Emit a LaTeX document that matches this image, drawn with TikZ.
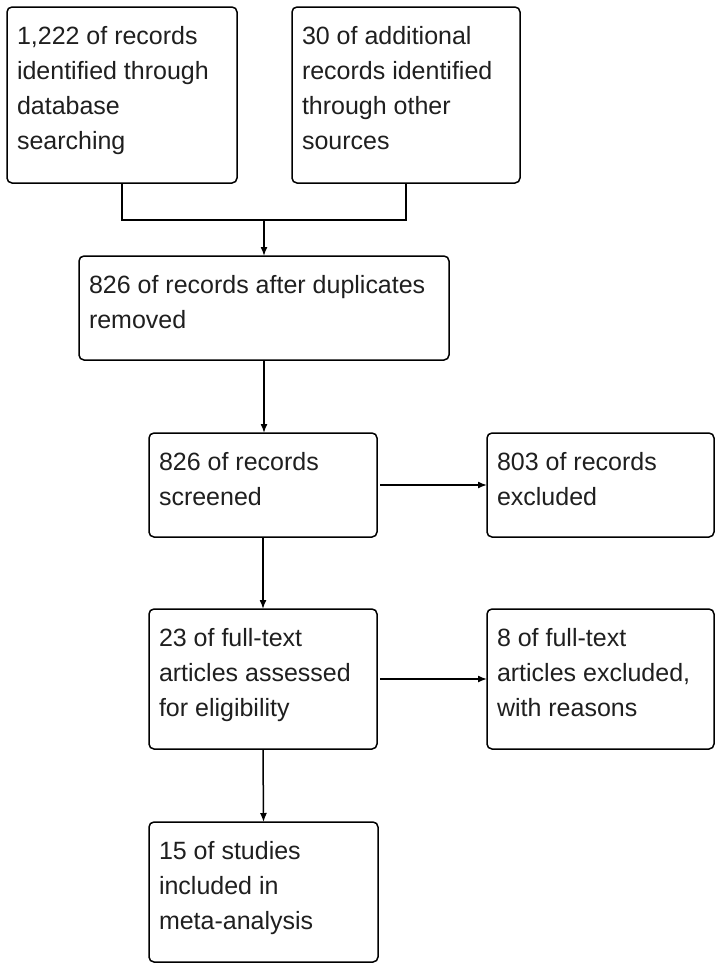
\documentclass[tikz,border=0pt]{standalone}
\usepackage{fontspec}
\setmainfont{Liberation Sans}
\usetikzlibrary{arrows.meta}
\newcommand{\boxtxt}[3]{\parbox[c][#2][t]{#1}{\fontsize{25pt}{35pt}\selectfont\raggedright\leftskip=10pt\relax\rule{0pt}{37pt}#3}}
\begin{document}
\begin{tikzpicture}[x=1pt,y=-1pt,
  box/.style={draw, line width=1.5pt, rounded corners=5pt, inner sep=0pt, outer sep=0pt, anchor=north west, text=black!88},
  ln/.style={line width=1.5pt},
  arr/.style={line width=1.5pt, -{Latex[length=9pt,width=7pt]}}]
\useasboundingbox[fill=white] (0,0) rectangle (722,970);
\node[box] (b1) at (7,7)     {\boxtxt{230pt}{176pt}{1,222 of records\\identified through\\database\\searching}};
\node[box] (b2) at (292,7)   {\boxtxt{228pt}{176pt}{30 of additional\\records identified\\through other\\sources}};
\node[box] (b3) at (79,256)  {\boxtxt{370pt}{104pt}{826 of records after duplicates\\removed}};
\node[box] (b4) at (149,433) {\boxtxt{228pt}{104pt}{826 of records\\screened}};
\node[box] (b5) at (487,433) {\boxtxt{227pt}{104pt}{803 of records\\excluded}};
\node[box] (b6) at (149,609) {\boxtxt{228pt}{140pt}{23 of full-text\\articles assessed\\for eligibility}};
\node[box] (b7) at (487,609) {\boxtxt{227pt}{140pt}{8 of full-text\\articles excluded,\\with reasons}};
\node[box] (b8) at (149,822) {\boxtxt{229pt}{140pt}{15 of studies\\included in\\meta-analysis}};
\coordinate (j) at (264,220);
\draw[ln] (b1.south) |- (j) -| (b2.south);
\draw[arr] (j) -- (b3.north);
\draw[arr] (b3.south) -- (b3.south |- b4.north);
\draw[arr] (b4.south) -- (b6.north);
\draw[arr] (b6.south) -- (b8.north);
\draw[arr, shorten <=3pt] (b4.east) -- (b5.west);
\draw[arr, shorten <=3pt] (b6.east) -- (b7.west);
\end{tikzpicture}
\end{document}
